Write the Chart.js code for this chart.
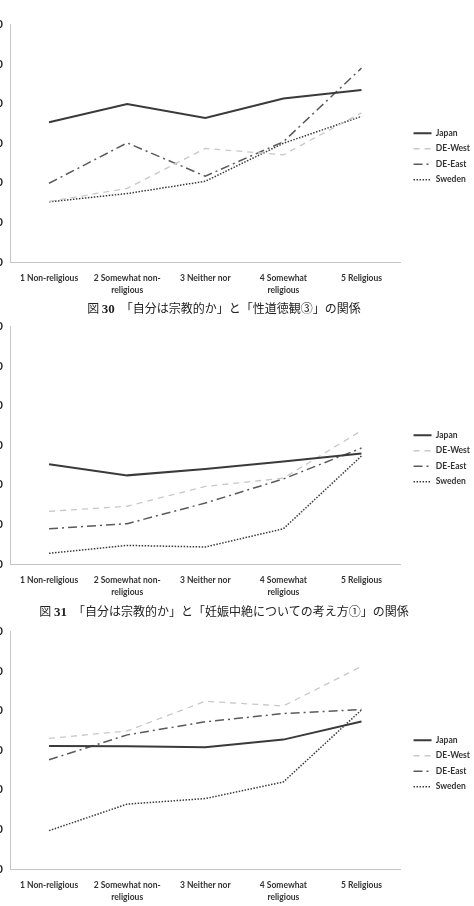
<!DOCTYPE html>
<html lang="ja">
<head>
<meta charset="UTF-8">
<title>宗教性と価値観</title>
<script src="https://cdn.jsdelivr.net/npm/chart.js"></script>
<style>
  body { margin: 0; background: #fff; width: 474px; height: 906px; position: relative; overflow: hidden; }
  .box { position: absolute; left: -40px; }
  .cap { position: absolute; left: 0; width: 448px; text-align: center; font-family: "Noto Sans CJK JP", sans-serif; font-size: 12px; color: #222; }
  .cap b { font-family: "Liberation Serif", serif; font-size: 13px; }
</style>
</head>
<body>
<div class="box" style="top:11px"><canvas id="fig30" width="514" height="291"></canvas></div>
<div class="cap" style="top:299px">図 <b>30</b>　「自分は宗教的か」と「性道徳観③」の関係</div>
<div class="box" style="top:313px"><canvas id="fig31" width="514" height="291"></canvas></div>
<div class="cap" style="top:602px">図 <b>31</b>　「自分は宗教的か」と「妊娠中絶についての考え方①」の関係</div>
<div class="box" style="top:618px"><canvas id="fig32" width="514" height="291"></canvas></div>
<script>
const categories = [
  '1 Non-religious',
  ['2 Somewhat non-', 'religious'],
  '3 Neither nor',
  ['4 Somewhat', 'religious'],
  '5 Religious'
];
const countries = ['Japan', 'DE-West', 'DE-East', 'Sweden'];
const yTicks = [0, 10, 20, 30, 40, 50, 60];

const fig30Japan  = [35.3, 39.9, 36.4, 41.3, 43.5];
const fig30West   = [15.3, 18.6, 28.7, 27.1, 37.7];
const fig30East   = [19.9, 30.1, 21.7, 30.4, 49.0];
const fig30Sweden = [15.2, 17.3, 20.4, 30.0, 36.8];

const fig31Japan  = [25.2, 22.4, 24.0, 25.9, 27.9];
const fig31West   = [13.3, 14.6, 19.6, 21.7, 33.7];
const fig31East   = [8.9, 10.2, 15.4, 21.5, 29.3];
const fig31Sweden = [2.7, 4.7, 4.3, 8.9, 27.3];

const fig32Japan  = [31.1, 31.0, 30.8, 32.7, 37.3];
const fig32West   = [33.0, 34.9, 42.4, 41.2, 51.2];
const fig32East   = [27.6, 33.9, 37.2, 39.3, 40.3];
const fig32Sweden = [9.7, 16.4, 17.8, 22.0, 40.2];

const lineStyles = [
  { borderColor: '#3a3a3a', borderWidth: 2, borderDash: [] },
  { borderColor: '#c8c8c8', borderWidth: 1.3, borderDash: [6, 5] },
  { borderColor: '#5a5a5a', borderWidth: 1.5, borderDash: [9, 4, 2, 4] },
  { borderColor: '#3a3a3a', borderWidth: 1.5, borderDash: [1.5, 1.5] }
];

const labelFont = { family: 'Lato', size: 8.5, weight: 'bold', lineHeight: 1.4 };

// nudge the legend to where Excel puts it
const legendNudge = {
  id: 'legendNudge',
  afterLayout(chart) {
    const lg = chart.legend;
    lg.left += 6; lg.right += 6;
    lg.top -= 5; lg.bottom -= 5;
  }
};

function drawFigure(id, series) {
  new Chart(document.getElementById(id), {
    type: 'line',
    data: {
      labels: categories,
      datasets: series.map((values, i) => Object.assign({
        label: countries[i],
        data: values,
        fill: false,
        tension: 0,
        pointRadius: 0,
        pointHoverRadius: 0
      }, lineStyles[i]))
    },
    plugins: [legendNudge],
    options: {
      responsive: false,
      animation: false,
      layout: { padding: { top: 10, right: 0 } },
      scales: {
        x: {
          offset: true,
          grid: { display: false, drawTicks: false },
          border: { display: true, color: '#c4c4c4', width: 1 },
          ticks: { color: '#333', font: labelFont, padding: 10, maxRotation: 0, autoSkip: false },
          afterFit: s => { s.height = 40; }
        },
        y: {
          min: 0,
          max: 60,
          afterBuildTicks: s => { s.ticks = yTicks.map(v => ({ value: v })); },
          grid: { display: false, drawTicks: false },
          border: { display: true, color: '#c4c4c4', width: 1 },
          ticks: { color: '#222', font: { family: 'Lato', size: 11, weight: 'bold' }, padding: 7 },
          afterFit: s => { s.width = 50; }
        }
      },
      plugins: {
        legend: {
          position: 'right',
          labels: {
            usePointStyle: true,
            pointStyleWidth: 18,
            boxHeight: 8,
            padding: 7,
            color: '#333',
            font: labelFont,
            generateLabels: chart => chart.data.datasets.map((ds, i) => ({
              text: ds.label,
              strokeStyle: ds.borderColor,
              fillStyle: ds.borderColor,
              fontColor: '#333',
              lineWidth: ds.borderWidth,
              lineDash: ds.borderDash,
              pointStyle: 'line',
              hidden: false,
              datasetIndex: i
            }))
          }
        },
        tooltip: { enabled: false }
      }
    }
  });
}

drawFigure('fig30', [fig30Japan, fig30West, fig30East, fig30Sweden]);
drawFigure('fig31', [fig31Japan, fig31West, fig31East, fig31Sweden]);
drawFigure('fig32', [fig32Japan, fig32West, fig32East, fig32Sweden]);
</script>
</body>
</html>
